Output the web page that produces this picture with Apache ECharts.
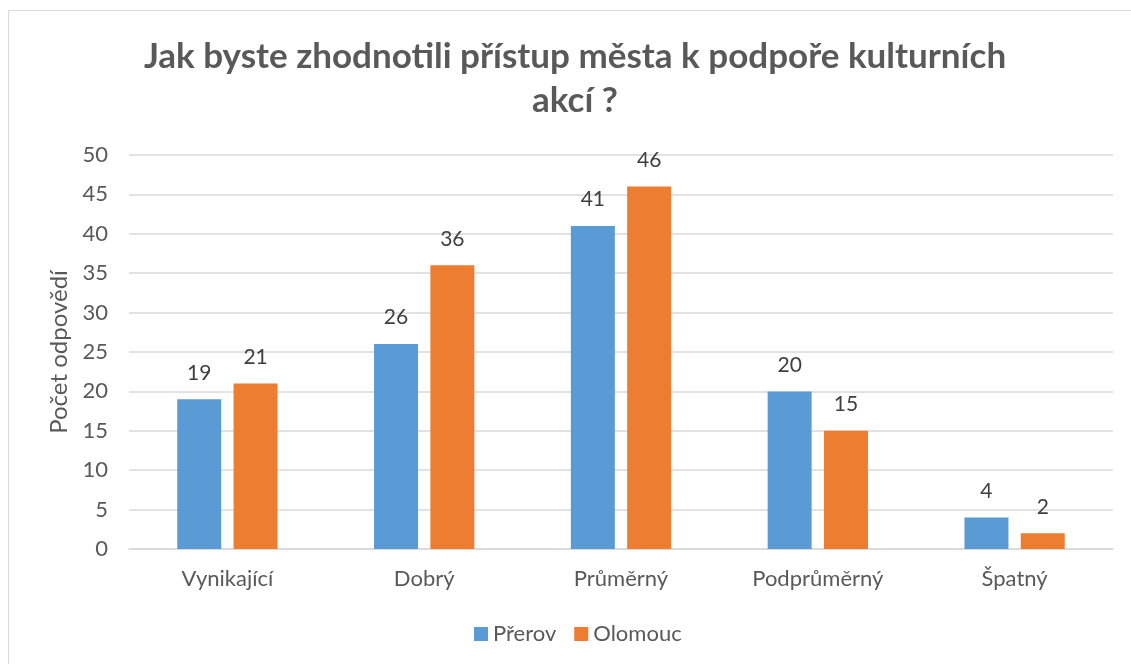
<!DOCTYPE html>
<html>
<head>
<meta charset="utf-8">
<script src="https://cdn.jsdelivr.net/npm/echarts@6/dist/echarts.min.js"></script>
<style>
  html, body { margin: 0; padding: 0; background: #fff; }
  #chart { width: 1131px; height: 664px; }
</style>
</head>
<body>
<div id="chart"></div>
<script>
  // data
  var categories = ['Vynikající', 'Dobrý', 'Průměrný', 'Podprůměrný', 'Špatný'];
  var prerov = [19, 26, 41, 20, 4];
  var olomouc = [21, 36, 46, 15, 2];

  var font = 'Lato, "Open Sans", sans-serif';
  var chart = echarts.init(document.getElementById('chart'));
  chart.setOption({
    animation: false,
    textStyle: { fontFamily: font },
    graphic: [{
      type: 'rect',
      shape: { x: 8.5, y: 10.5, width: 1140, height: 680 },
      style: { fill: 'none', stroke: '#d9d9d9', lineWidth: 1 }
    }],
    title: {
      text: 'Jak byste zhodnotili přístup města k podpoře kulturních\nakcí ?',
      left: 570,
      textAlign: 'center',
      top: 30,
      textStyle: { fontSize: 35, fontWeight: 'bold', color: '#595959', lineHeight: 44, fontFamily: font }
    },
    legend: {
      top: 618,
      left: 469,
      itemWidth: 14,
      itemHeight: 14,
      itemGap: 18,
      icon: 'rect',
      textStyle: { fontSize: 22, color: '#595959', fontFamily: font },
      data: ['Přerov', 'Olomouc']
    },
    grid: { left: 129, right: 18, top: 155, bottom: 115 },
    xAxis: {
      type: 'category',
      data: categories,
      axisTick: { show: false },
      axisLine: { lineStyle: { color: '#d9d9d9', width: 1.5 } },
      axisLabel: { fontSize: 22, color: '#595959', margin: 19, fontFamily: font }
    },
    yAxis: {
      type: 'value',
      min: 0,
      max: 50,
      interval: 5,
      name: 'Počet odpovědí',
      nameLocation: 'middle',
      nameGap: 53,
      nameTextStyle: { fontSize: 24, color: '#595959', fontFamily: font },
      axisLine: { show: false },
      axisTick: { show: false },
      axisLabel: { fontSize: 22, color: '#595959', margin: 21, fontFamily: font },
      splitLine: { lineStyle: { color: '#d9d9d9', width: 1.5 } }
    },
    series: [{
      name: 'Přerov',
      type: 'bar',
      data: prerov,
      barWidth: 44,
      barGap: '28%',
      itemStyle: { color: '#5b9bd5' },
      label: { show: true, position: 'top', distance: 16, fontSize: 21, color: '#404040', fontFamily: font }
    }, {
      name: 'Olomouc',
      type: 'bar',
      data: olomouc,
      barWidth: 44,
      itemStyle: { color: '#ed7d31' },
      label: { show: true, position: 'top', distance: 16, fontSize: 21, color: '#404040', fontFamily: font }
    }]
  });
</script>
</body>
</html>
